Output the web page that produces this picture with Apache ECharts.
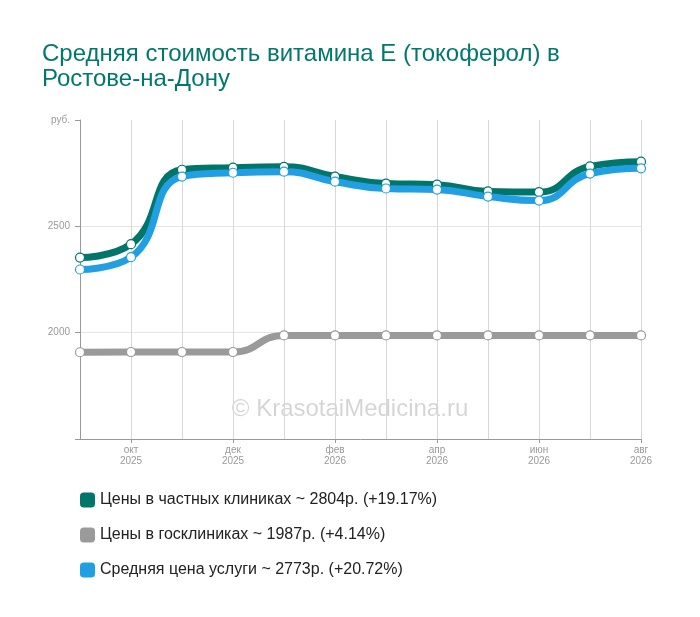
<!DOCTYPE html>
<html>
<head>
  <meta charset="utf-8">
  <title>Средняя стоимость витамина Е</title>
  <script src="https://cdn.jsdelivr.net/npm/echarts@6/dist/echarts.min.js"></script>
</head>
<body style="margin:0">
  <div id="main" style="width:700px;height:617px;"></div>
  <script type="text/javascript">
    var months = ['сен\n2025', 'окт\n2025', 'ноя\n2025', 'дек\n2025', 'янв\n2026', 'фев\n2026',
      'мар\n2026', 'апр\n2026', 'май\n2026', 'июн\n2026', 'июл\n2026', 'авг\n2026'];
    var privatePrices = [2353, 2416, 2766, 2776, 2780, 2734, 2701, 2696, 2664, 2661, 2782, 2804];
    var statePrices = [1908, 1909, 1909, 1909, 1987, 1987, 1987, 1987, 1987, 1987, 1987, 1987];
    var avgPrices = [2297, 2355, 2734, 2752, 2757, 2710, 2678, 2673, 2640, 2621, 2748, 2773];
    var names = ['Цены в частных клиниках ~ 2804р. (+19.17%)',
      'Цены в госклиниках ~ 1987р. (+4.14%)',
      'Средняя цена услуги ~ 2773р. (+20.72%)'];
    var colors = ['#00766a', '#9a9a9a', '#229fe2'];

    var myChart = echarts.init(document.getElementById('main'));

    function lineSeries(i, data) {
      return {
        name: names[i],
        type: 'line',
        smooth: 0.5,
        data: data,
        symbol: 'circle',
        symbolSize: 9,
        lineStyle: { width: 7, color: colors[i] },
        itemStyle: { color: '#fff', borderColor: colors[i], borderWidth: 1.2 }
      };
    }

    myChart.setOption({
      animation: false,
      title: {
        text: 'Средняя стоимость витамина Е (токоферол) в\nРостове-на-Дону',
        left: 37,
        top: 37,
        textStyle: { fontFamily: 'Liberation Sans', fontSize: 24, lineHeight: 25, fontWeight: 'normal', color: '#00786b' }
      },
      grid: { left: 80, right: 59, top: 120, bottom: 178 },
      legend: {
        orient: 'vertical',
        left: 75,
        top: 487,
        itemGap: 19,
        itemWidth: 15,
        itemHeight: 15,
        icon: 'roundRect',
        textStyle: { fontFamily: 'Liberation Sans', fontSize: 16, color: '#222' },
        data: names.map(function (n, i) {
          return { name: n, itemStyle: { color: colors[i], borderColor: colors[i], borderWidth: 0 } };
        })
      },
      graphic: [{
        type: 'text',
        left: 'center',
        top: 397,
        style: { text: '© KrasotaiMedicina.ru', font: '24px "Liberation Sans"', fill: 'rgba(0,0,0,0.17)' }
      }],
      xAxis: {
        type: 'category',
        boundaryGap: false,
        data: months,
        axisLine: { lineStyle: { color: '#999' } },
        axisTick: { length: 4, interval: function (i) { return i % 2 === 1; }, lineStyle: { color: '#999' } },
        axisLabel: {
          interval: function (i) { return i % 2 === 1; },
          color: '#999', fontSize: 10, fontFamily: 'Liberation Sans', lineHeight: 11, margin: 6
        },
        splitLine: { show: true, interval: 0, lineStyle: { color: '#d8d8d8' } }
      },
      yAxis: {
        type: 'value',
        min: 1500,
        max: 3000,
        interval: 500,
        axisLine: { show: true, lineStyle: { color: '#999' } },
        axisTick: { show: true, length: 5, lineStyle: { color: '#999' } },
        axisLabel: {
          color: '#999', fontSize: 10, fontFamily: 'Liberation Sans', margin: 10,
          formatter: function (v) { return v === 3000 ? 'руб.' : (v === 1500 ? '' : v); }
        },
        splitLine: { lineStyle: { color: ['transparent', '#e6e6e6', '#e6e6e6', 'transparent'] } }
      },
      series: [
        lineSeries(0, privatePrices),
        lineSeries(1, statePrices),
        lineSeries(2, avgPrices)
      ]
    });
  </script>
</body>
</html>
